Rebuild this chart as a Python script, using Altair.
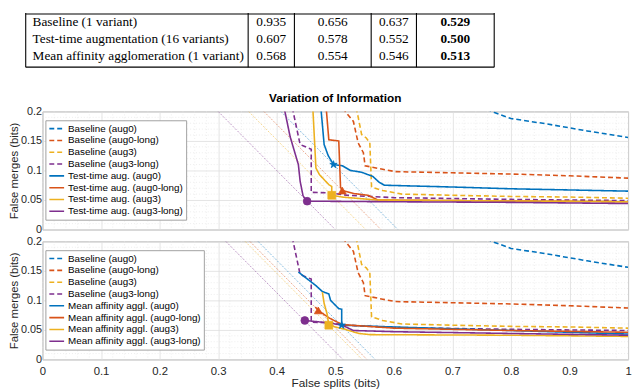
import altair as alt
import pandas as pd

# ---------------- table data ----------------
table_header = ["aug0", "aug0-long", "aug3", "aug3-long"]
table_rows = ["Baseline (1 variant)",
              "Test-time augmentation (16 variants)",
              "Mean affinity agglomeration (1 variant)"]
vi_baseline = [0.935, 0.656, 0.637, 0.529]
vi_testtime = [0.607, 0.578, 0.552, 0.500]
vi_meanaff = [0.568, 0.554, 0.546, 0.513]

# ---------------- curve data ----------------
variants = ["aug0", "aug0-long", "aug3", "aug3-long"]
baseline_labels = ["Baseline (aug0)", "Baseline (aug0-long)", "Baseline (aug3)", "Baseline (aug3-long)"]
testtime_labels = ["Test-time aug. (aug0)", "Test-time aug. (aug0-long)", "Test-time aug. (aug3)", "Test-time aug. (aug3-long)"]
meanaff_labels = ["Mean affinity aggl. (aug0)", "Mean affinity aggl. (aug0-long)", "Mean affinity aggl. (aug3)", "Mean affinity aggl. (aug3-long)"]

base_aug0_x = [0.735, 0.767, 0.8, 0.86, 0.93, 1.0]
base_aug0_y = [0.217, 0.2, 0.188, 0.179, 0.167, 0.156]
base_aug0long_x = [0.512, 0.517, 0.531, 0.539, 0.548, 0.551, 0.581, 0.603, 0.7, 0.8, 0.9, 1.0]
base_aug0long_y = [0.22, 0.2, 0.183, 0.147, 0.13, 0.108, 0.102, 0.098, 0.096, 0.094, 0.091, 0.087]
base_aug3_x = [0.535, 0.537, 0.539, 0.545, 0.553, 0.559, 0.562, 0.581, 0.614, 0.7, 0.8, 0.9, 1.0]
base_aug3_y = [0.22, 0.2, 0.191, 0.161, 0.155, 0.147, 0.072, 0.066, 0.06, 0.058, 0.056, 0.055, 0.053]
base_aug3long_x = [0.427, 0.428, 0.44, 0.447, 0.459, 0.459, 0.49, 0.52, 0.6, 0.8, 1.0]
base_aug3long_y = [0.22, 0.2, 0.144, 0.141, 0.136, 0.063, 0.062, 0.058, 0.054, 0.051, 0.049]

tt_aug0_x = [0.474, 0.476, 0.481, 0.488, 0.497, 0.512, 0.526, 0.545, 0.564, 0.575, 0.584, 0.7, 0.8, 0.9, 1.0]
tt_aug0_y = [0.22, 0.2, 0.144, 0.125, 0.11, 0.108, 0.1, 0.097, 0.09, 0.08, 0.075, 0.072, 0.069, 0.067, 0.065]
tt_aug0long_x = [0.483, 0.485, 0.489, 0.506, 0.509, 0.512, 0.531, 0.556, 0.573, 0.7, 0.85, 1.0]
tt_aug0long_y = [0.22, 0.2, 0.152, 0.15, 0.072, 0.066, 0.061, 0.058, 0.05, 0.049, 0.048, 0.047]
tt_aug3_x = [0.461, 0.462, 0.467, 0.473, 0.489, 0.494, 0.494, 0.512, 0.57, 0.7, 0.85, 1.0]
tt_aug3_y = [0.22, 0.2, 0.104, 0.093, 0.076, 0.073, 0.058, 0.055, 0.05, 0.049, 0.048, 0.047]
tt_aug3long_x = [0.412, 0.414, 0.423, 0.437, 0.44, 0.445, 0.452, 0.6, 0.8, 1.0]
tt_aug3long_y = [0.22, 0.2, 0.157, 0.11, 0.082, 0.057, 0.048, 0.047, 0.046, 0.044]

ma_aug0_x = [0.437, 0.45, 0.467, 0.478, 0.489, 0.492, 0.506, 0.511, 0.511, 0.512, 0.6, 0.8, 1.0]
ma_aug0_y = [0.148, 0.138, 0.125, 0.115, 0.111, 0.1, 0.086, 0.085, 0.062, 0.058, 0.055, 0.049, 0.043]
ma_aug0long_x = [0.466, 0.471, 0.49, 0.512, 0.6, 0.8, 1.0]
ma_aug0long_y = [0.089, 0.083, 0.07, 0.059, 0.053, 0.049, 0.046]
ma_aug3_x = [0.478, 0.481, 0.486, 0.489, 0.5, 0.517, 0.54, 0.56, 0.8, 1.0]
ma_aug3_y = [0.114, 0.095, 0.077, 0.059, 0.055, 0.051, 0.044, 0.042, 0.041, 0.039]
ma_aug3long_x = [0.448, 0.489, 0.512, 0.531, 0.6, 0.8, 1.0]
ma_aug3long_y = [0.066, 0.062, 0.058, 0.049, 0.047, 0.044, 0.041]

# best operating points (markers)
tt_best_x = [0.497, 0.512, 0.494, 0.452]
tt_best_y = [0.110, 0.066, 0.058, 0.048]
ma_best_x = [0.511, 0.471, 0.489, 0.448]
ma_best_y = [0.058, 0.083, 0.058, 0.066]

# ---------------- style / layout ----------------
COLORS = ["#0072BD", "#D95319", "#EDB120", "#7E2F8E"]
STAR = ("M0,-1 L0.2245,-0.309 L0.951,-0.309 L0.363,0.118 L0.588,0.809 "
        "L0,0.382 L-0.588,0.809 L-0.363,0.118 L-0.951,-0.309 L-0.2245,-0.309 Z")
SHAPES = [STAR, "triangle-up", "square", "circle"]
DASHED = [5, 3]
SOLID = [1, 0]
X_TICKS = [0, 0.1, 0.2, 0.3, 0.4, 0.5, 0.6, 0.7, 0.8, 0.9, 1.0]
Y_TICKS = [0, 0.05, 0.1, 0.15, 0.2]
MINOR_X = [round(0.02 * i, 2) for i in range(51) if i % 5]
MINOR_Y = [round(0.01 * i, 2) for i in range(21) if i % 5]
PW, PH = 595, 120
PLOT_LEFT = 43  # screen x of the plot origin
SANS = "Liberation Sans"
SERIF = "Liberation Serif"
TXT = "#262626"

# table geometry (screen px)
T_VLINES = [26, 252, 299, 377, 423, 502]
T_COL_CENTERS = [275.5, 338, 400, 462.5]
T_ROW_LEFT = 33


def rel(v):
    return v - PLOT_LEFT


# ---------------- table view ----------------
one = pd.DataFrame({"k": [0]})
rows_vals = [vi_baseline, vi_testtime, vi_meanaff]
tdf = pd.DataFrame([{"row": r, "col": c, "txt": f"{v:.3f}"}
                    for r, vals in zip(table_rows, rows_vals)
                    for c, v in zip(table_header, vals)])
ydef = alt.Y("row:N", scale=alt.Scale(type="point", domain=table_rows, range=[9, 44], padding=0), axis=None)

t_layers = []
for yv in [1, 55]:
    t_layers.append(alt.Chart(one).mark_rule(color="black", strokeWidth=1.1).encode(
        x=alt.value(rel(T_VLINES[0])), x2=alt.value(rel(T_VLINES[-1])), y=alt.value(yv)))
for xv in T_VLINES:
    t_layers.append(alt.Chart(one).mark_rule(color="black", strokeWidth=1.1).encode(
        x=alt.value(rel(xv)), y=alt.value(0), y2=alt.value(55)))
t_layers.append(alt.Chart(pd.DataFrame({"row": table_rows})).mark_text(
    align="left", baseline="middle", font=SERIF, fontSize=13.5, color="black").encode(
    x=alt.value(rel(T_ROW_LEFT)), y=ydef, text="row:N"))
for j, c in enumerate(table_header):
    bold = "bold" if c == "aug3-long" else "normal"
    t_layers.append(alt.Chart(tdf).transform_filter(alt.datum.col == c).mark_text(
        align="center", baseline="middle", font=SERIF, fontSize=13.5, fontWeight=bold, color="black").encode(
        x=alt.value(rel(T_COL_CENTERS[j])), y=ydef, text="txt:N"))
    # header row lies above the visible area (cut off in the original)
    t_layers.append(alt.Chart(pd.DataFrame({"h": [c]})).mark_text(
        align="center", baseline="middle", font="DejaVu Sans Mono", fontSize=12, color="black", clip=True).encode(
        x=alt.value(rel(T_COL_CENTERS[j])), y=alt.value(-9), text="h:N"))

table = alt.layer(*t_layers).properties(width=PW, height=88, view=alt.ViewBackground(stroke="transparent"))


# ---------------- panels ----------------
def make_panel(method_labels, method_x, method_y, best_x, best_y, vis, bottom, title=None):
    names = baseline_labels + method_labels
    xs = [base_aug0_x, base_aug0long_x, base_aug3_x, base_aug3long_x] + method_x
    ys = [base_aug0_y, base_aug0long_y, base_aug3_y, base_aug3long_y] + method_y
    recs = []
    for n, xx, yy in zip(names, xs, ys):
        for i, (a, b) in enumerate(zip(xx, yy)):
            recs.append({"series": n, "x": a, "y": b, "i": i})
    ldf = pd.DataFrame(recs)

    ddf = pd.DataFrame([{"key": k, "x": v + dx, "y": yy, "i": i}
                        for k, v in zip(variants, vis)
                        for i, (dx, yy) in enumerate([(-0.2, 0.2), (0.0, 0.0)])])
    mdf = pd.DataFrame({"key": variants, "x": best_x, "y": best_y})

    xscale = alt.Scale(domain=[0, 1], nice=False, zero=False)
    yscale = alt.Scale(domain=[0, 0.2], nice=False, zero=False)
    if bottom:
        xaxis = alt.Axis(values=X_TICKS, format="~g", title="False splits (bits)", grid=True,
                         gridColor="#dedede", gridWidth=0.8, ticks=False, tickSize=0, domain=False,
                         labelFlush=False, labelFontSize=11.5, labelPadding=6, labelColor=TXT,
                         titleFontSize=12, titleFontWeight="normal", titleColor=TXT, titlePadding=1)
    else:
        xaxis = alt.Axis(values=X_TICKS, labels=False, title=None, grid=True, gridColor="#dedede",
                         gridWidth=0.8, ticks=False, tickSize=0, domain=False)
    yaxis = alt.Axis(values=Y_TICKS, format="~g", title="False merges (bits)", grid=True,
                     gridColor="#dedede", gridWidth=0.8, ticks=False, tickSize=0, domain=False,
                     labelFontSize=11, labelPadding=1, labelColor=TXT,
                     titleFontSize=11.5, titleFontWeight="normal", titleColor=TXT, titlePadding=1)

    def X(f):
        return alt.X(f, type="quantitative", scale=xscale, axis=xaxis)

    def Y(f):
        return alt.Y(f, type="quantitative", scale=yscale, axis=yaxis)

    keyscale = alt.Scale(domain=variants, range=COLORS)
    leg = alt.Legend(title=None, orient="none", legendX=3, legendY=9, fillColor="white",
                     strokeColor="#a0a0a0", padding=3, rowPadding=1, clipHeight=11, symbolType="stroke",
                     symbolSize=225, symbolStrokeWidth=1.6, labelFontSize=10, labelFont=SANS,
                     labelColor="black", labelLimit=400, labelOffset=3, cornerRadius=0)

    minor_v = alt.Chart(pd.DataFrame({"v": MINOR_X})).mark_rule(
        color="#e6e6e6", strokeWidth=0.7, strokeDash=[1, 2]).encode(x=X("v"))
    minor_h = alt.Chart(pd.DataFrame({"v": MINOR_Y})).mark_rule(
        color="#e6e6e6", strokeWidth=0.7, strokeDash=[1, 2]).encode(y=Y("v"))
    diag = alt.Chart(ddf).mark_line(clip=True, strokeWidth=0.8, strokeDash=[2, 1.5], opacity=0.6).encode(
        x=X("x"), y=Y("y"), stroke=alt.Stroke("key:N", scale=keyscale, legend=None),
        detail="key:N", order="i:Q")
    lines = alt.Chart(ldf).mark_line(clip=True, strokeWidth=1.6).encode(
        x=X("x"), y=Y("y"),
        color=alt.Color("series:N", scale=alt.Scale(domain=names, range=COLORS + COLORS), legend=leg),
        strokeDash=alt.StrokeDash("series:N", scale=alt.Scale(domain=names, range=[DASHED] * 4 + [SOLID] * 4),
                                  legend=leg),
        detail="series:N", order="i:Q")
    marks = alt.Chart(mdf).mark_point(filled=True, size=62, opacity=1, strokeWidth=0.8).encode(
        x=X("x"), y=Y("y"),
        shape=alt.Shape("key:N", scale=alt.Scale(domain=variants, range=SHAPES), legend=None),
        fill=alt.Fill("key:N", scale=keyscale, legend=None),
        stroke=alt.Stroke("key:N", scale=keyscale, legend=None))
    ch = alt.layer(minor_v, minor_h, diag, lines, marks).properties(width=PW, height=PH)
    if title is not None:
        ch = ch.properties(title=alt.Title(title, fontSize=12, fontWeight="bold", font=SANS,
                                           color="black", offset=1, anchor="middle"))
    return ch


top = make_panel(testtime_labels, [tt_aug0_x, tt_aug0long_x, tt_aug3_x, tt_aug3long_x],
                 [tt_aug0_y, tt_aug0long_y, tt_aug3_y, tt_aug3long_y],
                 tt_best_x, tt_best_y, vi_testtime, bottom=False, title="Variation of Information")
bot = make_panel(meanaff_labels, [ma_aug0_x, ma_aug0long_x, ma_aug3_x, ma_aug3long_x],
                 [ma_aug0_y, ma_aug0long_y, ma_aug3_y, ma_aug3long_y],
                 ma_best_x, ma_best_y, vi_meanaff, bottom=True)

chart = alt.vconcat(table, top, bot, spacing=12, bounds="flush").resolve_scale(
    color="independent", strokeDash="independent").properties(
    padding={"left": 0, "top": 0, "right": 0, "bottom": 0}).configure(
    font=SANS, background="white").configure_view(stroke="#a8a8a8", strokeWidth=1)

chart.save("out.html", embed_options={"renderer": "svg", "actions": False})
